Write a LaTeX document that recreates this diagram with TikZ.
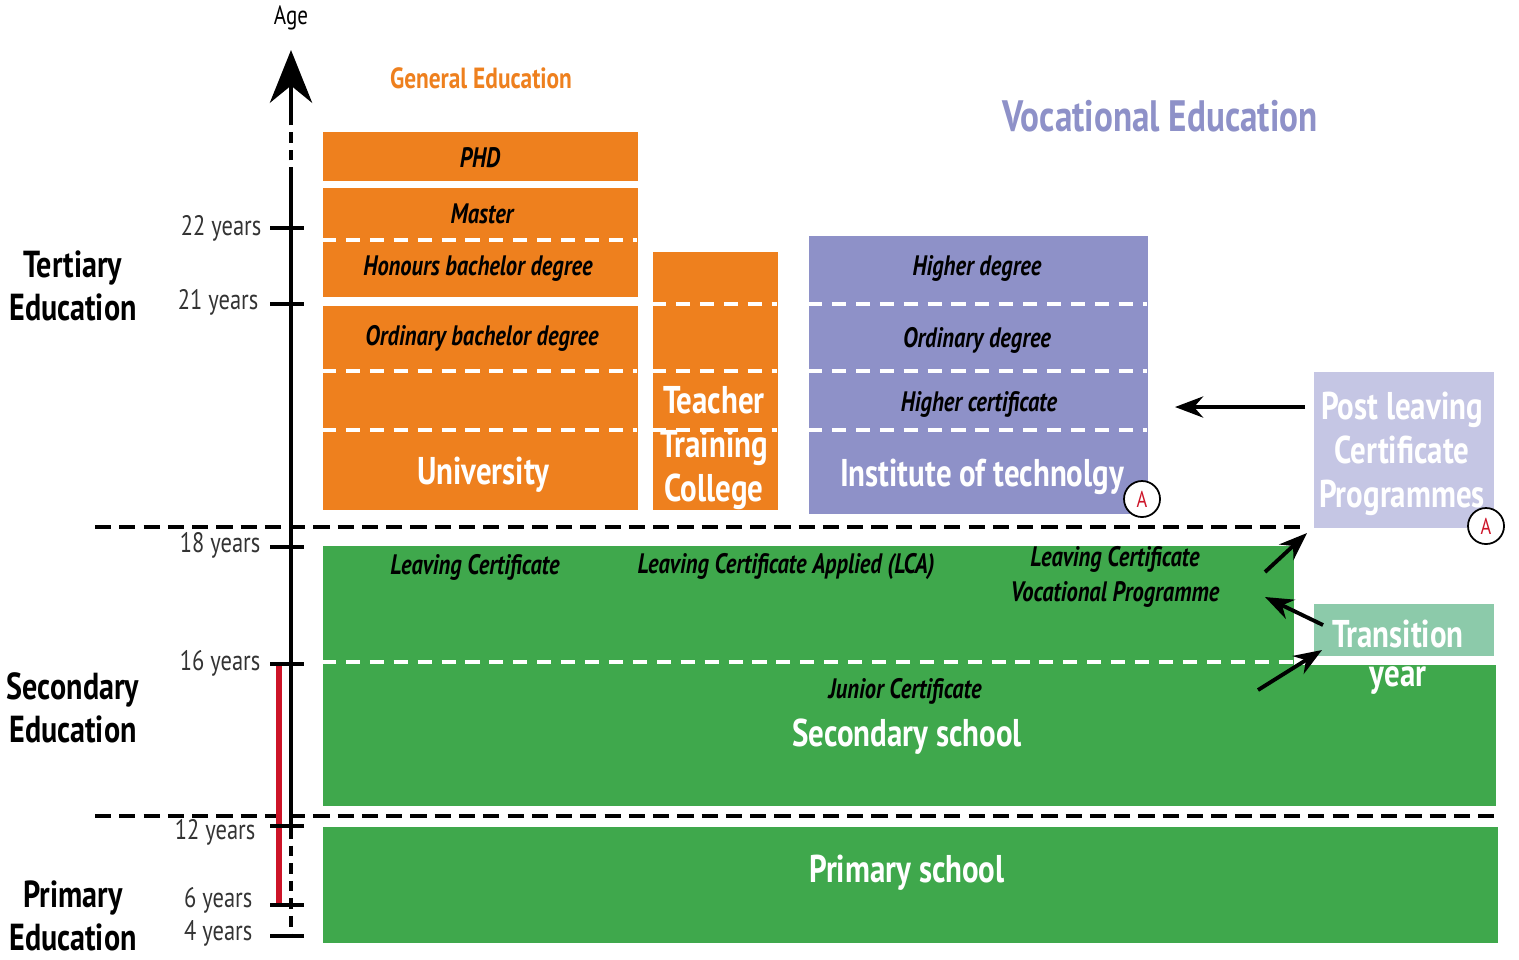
\documentclass[tikz,border=0pt]{standalone}
\usepackage{fontspec}
\setmainfont{PT Sans}[FakeStretch=0.8]
\usetikzlibrary{arrows.meta,positioning}

\definecolor{eduorange}{RGB}{238,128,30}
\definecolor{itpurple}{RGB}{142,145,200}
\definecolor{plcpurple}{RGB}{197,198,228}
\definecolor{schoolgreen}{RGB}{63,168,76}
\definecolor{tygreen}{RGB}{140,202,170}
\definecolor{agered}{RGB}{205,20,40}

\tikzset{
	block/.style={anchor=north west, inner sep=0pt, draw=none},
	levellabel/.style={font=\fontsize{8}{9}\selectfont\bfseries\itshape, text=black},
	bigwhite/.style={font=\fontsize{11}{12}\selectfont\bfseries, text=white},
	stagelabel/.style={font=\fontsize{10.7}{12.3}\selectfont\bfseries, align=center},
	agelabel/.style={font=\fontsize{8}{9}\selectfont, text=black!80, anchor=east, inner sep=0pt},
	whitedash/.style={white, line width=1.1pt, dash pattern=on 4pt off 2.8pt},
	blackdash/.style={black, line width=1.2pt, dash pattern=on 4.6pt off 2.3pt},
	axisline/.style={black, line width=1.2pt},
	flowarrow/.style={black, line width=1.1pt, -{Stealth[length=8pt,width=6pt]}},
	markA/.style={circle, draw=black, fill=white, line width=0.5pt, minimum size=0.36cm,
		inner sep=0pt, text=agered, font=\fontsize{6.5}{7}\selectfont}
}

\begin{document}
\begin{tikzpicture}[x=0.01cm, y=-0.01cm]
	\useasboundingbox (0,0) rectangle (1519,959);

	% Titles
	\node[font=\fontsize{7.5}{8}\selectfont] (age) at (291,18) {Age};
	\node[font=\fontsize{8.3}{9}\selectfont\bfseries, text=eduorange] (general) at (481,78) {General Education};
	\node[font=\fontsize{12.5}{14}\selectfont\bfseries, text=itpurple] (vocational) at (1160,116) {Vocational Education};

	% Stages
	\node[stagelabel] (tertiary) at (73,286) {Tertiary\\Education};
	\node[stagelabel] (secondary) at (73,708) {Secondary\\Education};
	\node[stagelabel] (primary) at (73,916) {Primary\\Education};

	% University
	\node[block, fill=eduorange, minimum width=3.15cm, minimum height=0.49cm] (phd) at (322,131) {};
	\node[block, fill=eduorange, minimum width=3.15cm, minimum height=1.09cm] (master) at (322,187) {};
	\node[block, fill=eduorange, minimum width=3.15cm, minimum height=2.04cm] (univ) at (322,305) {};
	\draw[whitedash] (322,240) -- (637,240);
	\draw[whitedash] (322,371) -- (637,371);
	\draw[whitedash] (322,430) -- (637,430);
	\node[levellabel] (phdtxt) at (480,158) {PHD};
	\node[levellabel] (mastertxt) at (482,214) {Master};
	\node[levellabel] (honours) at (478,269) {Honours bachelor degree};
	\node[levellabel] (ordinary) at (482,338) {Ordinary bachelor degree};
	\node[bigwhite] (univtxt) at (483,475) {University};

	% Teacher training college
	\node[block, fill=eduorange, minimum width=1.25cm, minimum height=2.58cm] (ttc) at (652,251) {};
	\foreach \y in {304,371,430}
		\draw[whitedash] (652,\y) -- (777,\y);
	\node[bigwhite, align=center, font=\fontsize{11}{12.6}\selectfont\bfseries] (ttctxt) at (714,448) {Teacher\\Training\\College};

	% Institute of technology
	\node[block, fill=itpurple, minimum width=3.39cm, minimum height=2.78cm] (iot) at (808,235) {};
	\foreach \y in {304,371,430}
		\draw[whitedash] (808,\y) -- (1147,\y);
	\node[levellabel] (higherdeg) at (977,268) {Higher degree};
	\node[levellabel] (ordinarydeg) at (977,340) {Ordinary degree};
	\node[levellabel] (highercert) at (979,404) {Higher certificate};
	\node[bigwhite] (iottxt) at (982,477) {Institute of technolgy};
	\node[markA] (iotA) at (1142,499) {A};

	% Post leaving certificate
	\node[block, fill=plcpurple, minimum width=1.80cm, minimum height=1.56cm] (plc) at (1313,371) {};
	\node[bigwhite, align=center, font=\fontsize{11}{12.6}\selectfont\bfseries] (plctxt) at (1402,454) {Post leaving\\Certificate\\Programmes};
	\node[markA] (plcA) at (1486,526) {A};
	\coordinate (plcout) at (1305,407);
	\coordinate (iotin) at (1175,407);
	\draw[flowarrow] (plcout) -- (iotin);

	% Secondary school
	\node[block, fill=schoolgreen, minimum width=9.71cm, minimum height=1.20cm] (senior) at (322,545) {};
	\node[block, fill=schoolgreen, minimum width=11.73cm, minimum height=1.41cm] (junior) at (322,664) {};
	\draw[whitedash] (322,662) -- (1293,662);
	\node[levellabel] (lc) at (475,567) {Leaving Certificate};
	\node[levellabel] (lca) at (786,567) {Leaving Certificate Applied (LCA)};
	\node[levellabel, align=center, font=\fontsize{8}{10}\selectfont\bfseries\itshape] (lcvp) at (1115,577) {Leaving Certificate\\Vocational Programme};
	\node[levellabel] (jc) at (905,691) {Junior Certificate};
	\node[bigwhite] (secschool) at (907,737) {Secondary school};

	% Transition year
	\node[block, fill=tygreen, minimum width=1.80cm, minimum height=0.52cm] (ty) at (1313,603) {};
	\node[bigwhite] (tytxt) at (1398,634) {Transition};
	\node[bigwhite] (yeartxt) at (1398,680) {year};
	\coordinate (lcvpout) at (1265,572);
	\coordinate (plcin) at (1307,533);
	\coordinate (tyout) at (1323,625);
	\coordinate (lcvpin) at (1265,597);
	\coordinate (jcout) at (1258,690);
	\coordinate (tyin) at (1322,650);
	\draw[flowarrow] (lcvpout) -- (plcin);
	\draw[flowarrow] (tyout) -- (lcvpin);
	\draw[flowarrow] (jcout) -- (tyin);

	% Primary school
	\node[block, fill=schoolgreen, minimum width=11.75cm, minimum height=1.16cm] (prim) at (322,826) {};
	\node[bigwhite] (primtxt) at (907,873) {Primary school};

	% Stage borders
	\draw[blackdash] (95,527) -- (1305,527);
	\draw[blackdash] (95,816) -- (1500,816);

	% Age axis
	\draw[axisline, dash pattern=on 3pt off 2pt] (291,178) -- (291,112);
	\draw[axisline, -{Stealth[length=15pt,width=12pt]}] (291,118) -- (291,50);
	\draw[axisline] (291,178) -- (291,828);
	\draw[axisline, dash pattern=on 3pt off 2pt] (291,828) -- (291,935);
	\draw[agered, line width=1.6pt] (279,664) -- (279,905);
	\foreach \y/\a/\ly/\lx in {228/22/228/262,304/21/302/259,547/18/545/261,664/16/663/261,826/12/832/256,905/6/900/253,936/4/933/253} {
		\draw[axisline] (270,\y) -- (304,\y);
		\node[agelabel] (age\a) at (\lx,\ly) {\a~years};
	}
\end{tikzpicture}
\end{document}
